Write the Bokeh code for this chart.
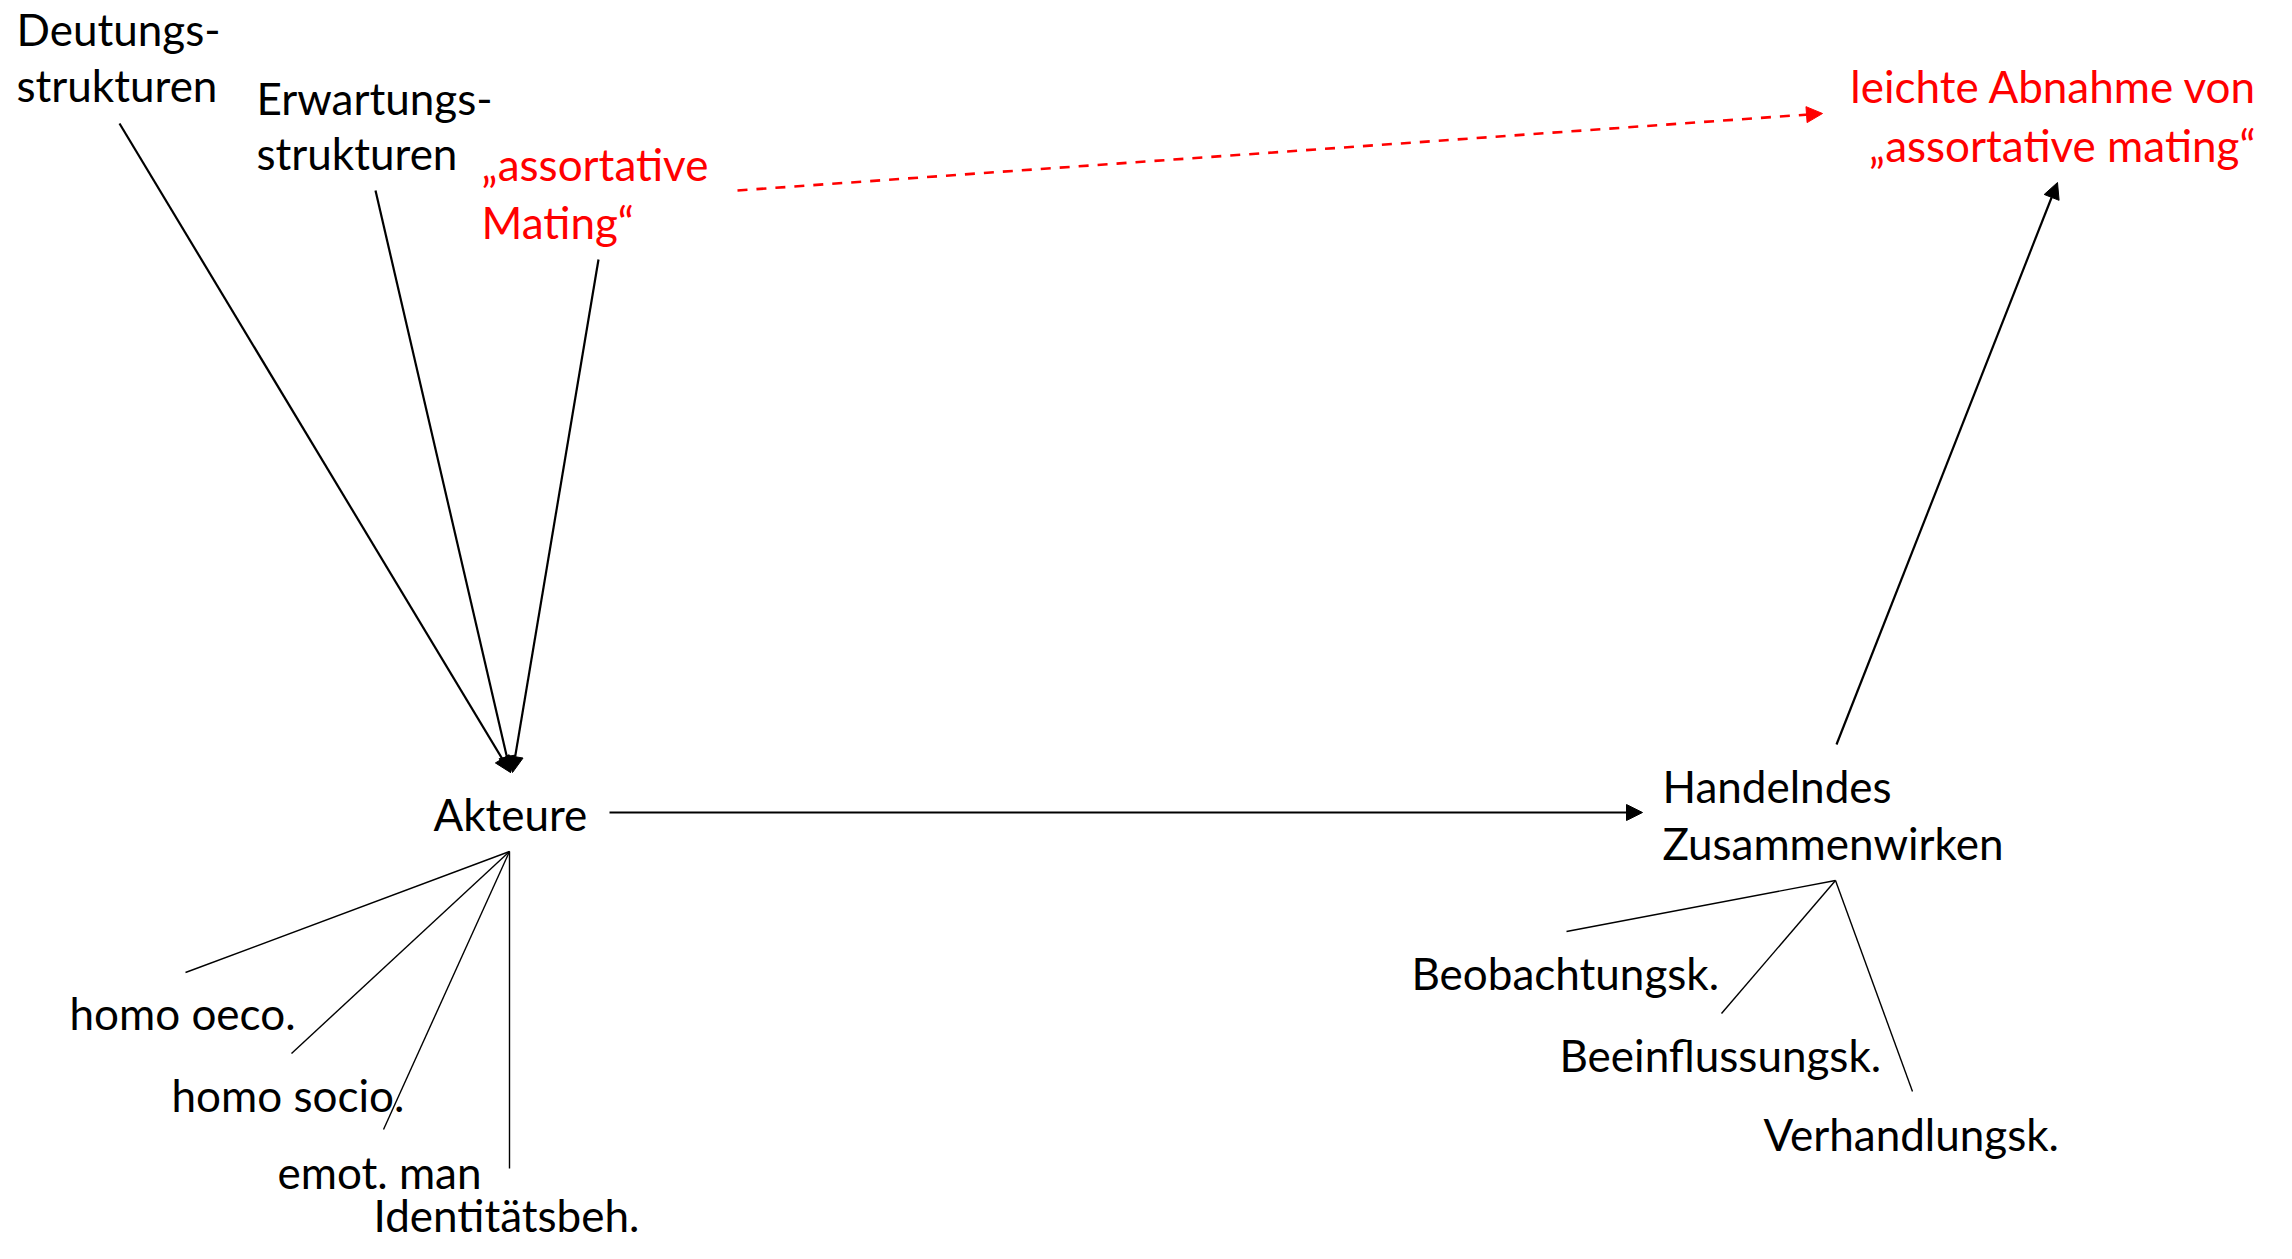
from bokeh.plotting import figure
from bokeh.models import Range1d, ColumnDataSource, Arrow, NormalHead
from bokeh.core.properties import value
from bokeh.embed import file_html
from bokeh.resources import INLINE

FONT = "Lato"
FSIZE = "44px"

# ---- node labels (left x, centre y) ----
black_labels = ["Deutungs-", "strukturen", "Erwartungs-", "strukturen", "Akteure",
                "Handelndes", "Zusammenwirken",
                "homo oeco.", "homo socio.", "emot. man", "Identitätsbeh.",
                "Beobachtungsk.", "Beeinflussungsk.", "Verhandlungsk."]
black_x = [17, 17, 257, 257, 434, 1663, 1663, 70, 172, 278, 374, 1412, 1560, 1764]
black_y = [29, 85, 98, 153, 814, 786, 843, 1013, 1095, 1172, 1215, 973, 1055, 1134]

red_left_labels = ["„assortative", "Mating“"]
red_left_x = [482, 482]
red_left_y = [164, 222]

red_right_labels = ["leichte Abnahme von", "„assortative mating“"]
red_right_x = [2258, 2256]
red_right_y = [86, 145]

# ---- arrows ----
arr_x0 = [120, 376, 599, 610, 1837]
arr_y0 = [124, 191, 260, 813, 745]
arr_x1 = [511, 511, 513, 1643, 2058]
arr_y1 = [773, 773, 773, 813, 183]

dash_x0 = [738]
dash_y0 = [191]
dash_x1 = [1823]
dash_y1 = [114]

# ---- fan (thin) lines ----
fan_x0 = [510, 510, 510, 510, 1836, 1836, 1836]
fan_y0 = [852, 852, 852, 852, 881, 881, 881]
fan_x1 = [186, 292, 384, 510, 1567, 1722, 1913]
fan_y1 = [973, 1054, 1130, 1169, 932, 1014, 1092]

W, H = 2276, 1243
p = figure(width=W, height=H, x_range=Range1d(1, 1 + W), y_range=Range1d(1 + H, 1),
           output_backend="svg", toolbar_location=None, min_border=0,
           x_axis_type=None, y_axis_type=None)
p.grid.visible = False
p.outline_line_color = None
p.background_fill_color = "white"
p.border_fill_color = "white"

p.segment(x0=fan_x0, y0=fan_y0, x1=fan_x1, y1=fan_y1, line_color="black", line_width=1.4)

arr_src = ColumnDataSource(dict(x0=arr_x0, y0=arr_y0, x1=arr_x1, y1=arr_y1))
p.add_layout(Arrow(source=arr_src, x_start="x0", y_start="y0", x_end="x1", y_end="y1",
                   line_color="black", line_width=2.2,
                   end=NormalHead(size=16, fill_color="black", line_color="black", line_width=1)))

dash_src = ColumnDataSource(dict(x0=dash_x0, y0=dash_y0, x1=dash_x1, y1=dash_y1))
p.add_layout(Arrow(source=dash_src, x_start="x0", y_start="y0", x_end="x1", y_end="y1",
                   line_color="#ff0000", line_width=2.6, line_dash="10 9",
                   end=NormalHead(size=16, fill_color="#ff0000", line_color="#ff0000", line_width=1)))

p.text(x=black_x, y=black_y, text=black_labels, text_font=value(FONT), text_font_size=value(FSIZE),
       text_baseline="middle", text_align="left", text_color="black")
p.text(x=red_left_x, y=red_left_y, text=red_left_labels, text_font=value(FONT), text_font_size=value(FSIZE),
       text_baseline="middle", text_align="left", text_color="#ff0000")
p.text(x=red_right_x, y=red_right_y, text=red_right_labels, text_font=value(FONT), text_font_size=value(FSIZE),
       text_baseline="middle", text_align="right", text_color="#ff0000")

open("out.html", "w").write(file_html(p, INLINE))
